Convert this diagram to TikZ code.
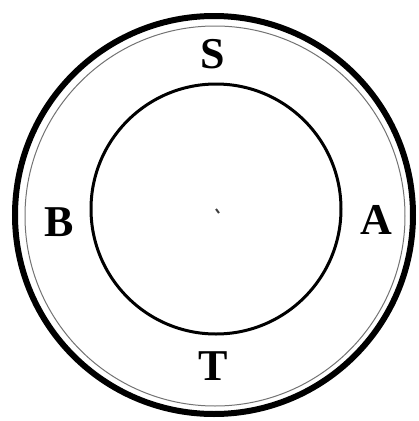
\documentclass[tikz,border=0pt]{standalone}
\usepackage{fontspec}
\setmainfont{Liberation Serif}
\begin{document}
\begin{tikzpicture}[x=1pt,y=-1pt,
  lbl/.style={font=\fontsize{44}{44}\selectfont\bfseries, inner sep=0pt, anchor=center}]
\useasboundingbox (0,0) rectangle (419,421);
% outer thick ring
\draw[line width=6pt] (214,215) circle[radius=199];
% thin grey ring
\draw[line width=1pt, black!55] (215,216) circle[radius=190];
% inner circle
\draw[line width=3pt] (216,209) circle[radius=125];
% centre mark
\draw[line width=2pt, black!75] (216,209) -- (219,213);
% labels
\node[lbl] (S) at (213,54) {S};
\node[lbl] (B) at (59,222) {B};
\node[lbl] (A) at (376,220) {A};
\node[lbl] (T) at (213,366) {T};
\end{tikzpicture}
\end{document}
